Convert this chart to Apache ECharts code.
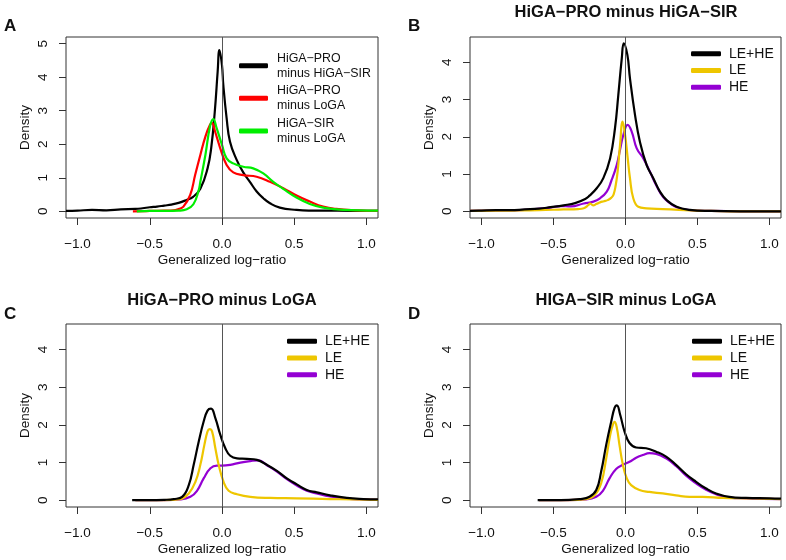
<!DOCTYPE html>
<html><head><meta charset="utf-8">
<script src="https://cdn.jsdelivr.net/npm/echarts@6/dist/echarts.min.js"></script>
<style>html,body{margin:0;padding:0;background:#fff}#c{width:786px;height:560px}</style>
</head><body><div id="c"></div>
<script>
// ---------- tick labels ----------
const xTicks = [-1, -0.5, 0, 0.5, 1];
const yTicksA = [0, 1, 2, 3, 4, 5];
const yTicksBCD = [0, 1, 2, 3, 4];

// ---------- Panel A ----------
const aNames = ['HiGA−PRO minus HiGA−SIR', 'HiGA−PRO minus LoGA', 'HiGA−SIR minus LoGA'];
const aLegendLabels = ['HiGA−PRO\nminus HiGA−SIR', 'HiGA−PRO\nminus LoGA', 'HiGA−SIR\nminus LoGA'];
const aBlackX = [-1.08, -1.0, -0.9, -0.8, -0.7, -0.6, -0.55, -0.5, -0.45, -0.4, -0.35, -0.3, -0.25, -0.2, -0.15, -0.1, -0.075, -0.05, -0.03, -0.018, 0, 0.009, 0.032, 0.055, 0.1, 0.147, 0.193, 0.24, 0.286, 0.332, 0.4, 0.516, 0.6, 0.8, 1.0, 1.08];
const aBlackY = [0.01, 0.02, 0.04, 0.03, 0.06, 0.07, 0.09, 0.12, 0.14, 0.17, 0.2, 0.25, 0.33, 0.43, 0.67, 1.28, 1.88, 2.97, 4.17, 4.81, 4.35, 3.77, 2.78, 2.08, 1.55, 1.16, 0.88, 0.59, 0.39, 0.24, 0.11, 0.04, 0.02, 0.02, 0.01, 0.01];
const aRedX = [-0.617, -0.5, -0.4, -0.336, -0.3, -0.267, -0.22, -0.186, -0.15, -0.115, -0.083, -0.069, -0.048, -0.012, 0.032, 0.078, 0.147, 0.24, 0.332, 0.424, 0.516, 0.608, 0.7, 0.792, 0.93, 1.08];
const aRedY = [0.0, 0.01, 0.02, 0.03, 0.07, 0.14, 0.49, 1.08, 1.68, 2.23, 2.58, 2.63, 2.38, 1.88, 1.38, 1.16, 1.08, 1.03, 0.88, 0.69, 0.47, 0.29, 0.14, 0.07, 0.03, 0.01];
const aGreenX = [-0.59, -0.5, -0.4, -0.3, -0.244, -0.198, -0.163, -0.15, -0.115, -0.083, -0.06, -0.037, 0, 0.032, 0.078, 0.147, 0.216, 0.286, 0.355, 0.424, 0.516, 0.608, 0.7, 0.838, 1.08];
const aGreenY = [0.0, 0.01, 0.01, 0.02, 0.06, 0.21, 0.6, 0.88, 1.68, 2.53, 2.75, 2.48, 1.98, 1.58, 1.43, 1.33, 1.28, 1.13, 0.88, 0.67, 0.41, 0.22, 0.11, 0.04, 0.02];

// ---------- Panels B, C, D: LE+HE, LE, HE ----------
const groupNames = ['LE+HE', 'LE', 'HE'];
const bBothX = [-1.08, -1.0, -0.9, -0.8, -0.7, -0.6, -0.52, -0.43, -0.35, -0.28, -0.25, -0.2, -0.154, -0.107, -0.073, -0.05, -0.026, -0.012, 0.013, 0.031, 0.066, 0.1, 0.147, 0.193, 0.239, 0.286, 0.355, 0.447, 0.59, 0.8, 1.08];
const bBothY = [0.01, 0.02, 0.03, 0.03, 0.05, 0.07, 0.11, 0.16, 0.22, 0.33, 0.42, 0.62, 0.89, 1.42, 2.23, 3.12, 4.1, 4.51, 4.2, 3.57, 2.59, 1.87, 1.24, 0.89, 0.53, 0.3, 0.12, 0.04, 0.01, 0.0, 0.0];
const bLEX = [-1.08, -0.8, -0.6, -0.43, -0.33, -0.29, -0.257, -0.246, -0.225, -0.2, -0.177, -0.15, -0.125, -0.1, -0.083, -0.068, -0.055, -0.038, -0.02, -0.003, 0.013, 0.031, 0.054, 0.089, 0.147, 0.26, 0.37, 0.49, 0.6, 0.8, 1.08];
const bLEY = [0.01, 0.02, 0.03, 0.05, 0.06, 0.08, 0.17, 0.21, 0.16, 0.2, 0.24, 0.27, 0.3, 0.36, 0.45, 0.7, 1.05, 1.78, 2.41, 2.05, 1.51, 0.89, 0.35, 0.12, 0.08, 0.06, 0.04, 0.02, 0.01, 0.0, 0.0];
const bHEX = [-1.08, -0.9, -0.7, -0.52, -0.45, -0.38, -0.29, -0.223, -0.177, -0.13, -0.1, -0.061, -0.038, -0.015, 0.015, 0.043, 0.078, 0.124, 0.17, 0.216, 0.262, 0.309, 0.355, 0.447, 0.59, 0.8, 1.08];
const bHEY = [0.01, 0.02, 0.04, 0.1, 0.14, 0.13, 0.21, 0.26, 0.35, 0.53, 0.8, 1.24, 1.65, 2.05, 2.32, 2.14, 1.69, 1.42, 1.06, 0.68, 0.38, 0.22, 0.11, 0.03, 0.01, 0.0, 0.0];

const cBothX = [-0.622, -0.5, -0.4, -0.334, -0.276, -0.23, -0.196, -0.161, -0.127, -0.1, -0.076, -0.046, -0.012, 0.023, 0.057, 0.104, 0.173, 0.242, 0.311, 0.38, 0.449, 0.518, 0.587, 0.656, 0.748, 0.864, 0.979, 1.08];
const cBothY = [0.0, 0.0, 0.01, 0.03, 0.09, 0.4, 0.94, 1.56, 2.09, 2.38, 2.43, 2.18, 1.74, 1.38, 1.18, 1.11, 1.1, 1.07, 0.94, 0.78, 0.58, 0.42, 0.27, 0.21, 0.13, 0.06, 0.03, 0.02];
const cLEX = [-0.6, -0.4, -0.288, -0.23, -0.184, -0.15, -0.122, -0.1, -0.086, -0.069, -0.046, -0.023, 0.011, 0.046, 0.104, 0.196, 0.334, 0.518, 0.748, 1.08];
const cLEY = [0.0, 0.0, 0.03, 0.18, 0.49, 0.94, 1.47, 1.83, 1.89, 1.83, 1.38, 0.94, 0.49, 0.25, 0.16, 0.09, 0.06, 0.05, 0.03, 0.01];
const cHEX = [-0.6, -0.4, -0.288, -0.219, -0.173, -0.127, -0.08, -0.035, 0, 0.057, 0.127, 0.196, 0.254, 0.311, 0.38, 0.449, 0.518, 0.587, 0.656, 0.748, 0.864, 0.979, 1.08];
const cHEY = [0.0, 0.0, 0.02, 0.09, 0.25, 0.58, 0.85, 0.92, 0.92, 0.94, 1.0, 1.04, 1.06, 0.93, 0.76, 0.56, 0.39, 0.25, 0.18, 0.1, 0.04, 0.02, 0.01];

const dBothX = [-0.61, -0.45, -0.319, -0.25, -0.203, -0.169, -0.134, -0.099, -0.076, -0.06, -0.037, -0.007, 0.028, 0.074, 0.143, 0.213, 0.282, 0.351, 0.421, 0.49, 0.56, 0.629, 0.721, 0.837, 0.999, 1.08];
const dBothY = [0.0, 0.0, 0.03, 0.09, 0.27, 0.76, 1.47, 2.09, 2.45, 2.52, 2.27, 1.83, 1.52, 1.4, 1.38, 1.29, 1.16, 0.94, 0.69, 0.49, 0.31, 0.18, 0.09, 0.06, 0.05, 0.04];
const dLEX = [-0.6, -0.4, -0.273, -0.215, -0.169, -0.134, -0.106, -0.088, -0.076, -0.06, -0.042, -0.018, 0.009, 0.039, 0.097, 0.166, 0.259, 0.351, 0.444, 0.536, 0.675, 0.837, 1.08];
const dLEY = [0.0, 0.0, 0.03, 0.13, 0.45, 1.11, 1.74, 2.0, 2.08, 1.92, 1.47, 0.94, 0.58, 0.4, 0.27, 0.22, 0.18, 0.13, 0.09, 0.09, 0.06, 0.05, 0.03];
const dHEX = [-0.6, -0.4, -0.273, -0.203, -0.157, -0.111, -0.065, -0.018, 0.028, 0.074, 0.12, 0.166, 0.213, 0.282, 0.351, 0.421, 0.49, 0.56, 0.629, 0.721, 0.837, 1.08];
const dHEY = [0.0, 0.0, 0.02, 0.09, 0.25, 0.58, 0.83, 0.94, 1.02, 1.13, 1.2, 1.25, 1.23, 1.11, 0.91, 0.65, 0.45, 0.28, 0.16, 0.07, 0.05, 0.03];

const panelTitles = ['HiGA−PRO minus HiGA−SIR', 'HiGA−PRO minus LoGA', 'HIGA−SIR minus LoGA'];
const panelLetters = ['A', 'B', 'C', 'D'];
const xName = 'Generalized log−ratio';
const yName = 'Density';

// ---------- build ----------
const FONT = 'Liberation Sans, Arial, Helvetica, sans-serif';
const colA = ['#000000', '#FF0000', '#00EE00'];
const colG = ['#000000', '#EEC600', '#9400D3'];
const zip = (xs, ys) => xs.map((x, i) => [x, ys[i]]);
const fmtX = v => (v < 0 ? '\u2212' : '') + Math.abs(v).toFixed(1);

const grids = [
  {left: 66, top: 37, width: 312, height: 181},
  {left: 470, top: 37, width: 311, height: 181},
  {left: 66, top: 324, width: 312, height: 183},
  {left: 470, top: 324, width: 311, height: 183}
].map(g => Object.assign(g, {show: true, borderColor: '#333', borderWidth: 1, backgroundColor: 'transparent', containLabel: false}));

const xAxes = grids.map((g, i) => ({
  gridIndex: i, type: 'value', min: -1.08, max: 1.08, position: 'bottom',
  axisLine: {show: false, onZero: false},
  splitLine: {show: false},
  axisTick: {show: true, customValues: xTicks, length: 7, inside: false, lineStyle: {color: '#333', width: 1}},
  axisLabel: {customValues: xTicks, formatter: fmtX, color: '#111', fontSize: 13.5, margin: 19, fontFamily: FONT},
  name: xName, nameLocation: 'middle', nameGap: 35,
  nameTextStyle: {color: '#111', fontSize: 13.5, fontFamily: FONT}
}));
const yAxes = grids.map((g, i) => {
  const ticks = i === 0 ? yTicksA : yTicksBCD;
  return {
    gridIndex: i, type: 'value', min: i === 0 ? -0.2 : -0.18, max: i === 0 ? 5.2 : 4.68, position: 'left',
    axisLine: {show: false, onZero: false},
    splitLine: {show: false},
    axisTick: {show: true, customValues: ticks, length: 7, inside: false, lineStyle: {color: '#333', width: 1}},
    axisLabel: {customValues: ticks, rotate: 90, color: '#111', fontSize: 13.5, margin: 16, fontFamily: FONT},
    name: yName, nameLocation: 'middle', nameGap: 34,
    nameTextStyle: {color: '#111', fontSize: 13.5, fontFamily: FONT}
  };
});

const vline = {
  silent: true, symbol: 'none', animation: false,
  label: {show: false},
  lineStyle: {color: '#555', width: 1, type: 'solid'},
  data: [{xAxis: 0}]
};
function line(name, color, data, gi, withMark) {
  const s = {
    name, type: 'line', xAxisIndex: gi, yAxisIndex: gi, data,
    color, showSymbol: false, symbol: 'none', smooth: 0.45,
    lineStyle: {color, width: 2.2, join: 'round'}, emphasis: {disabled: true}, animation: false
  };
  if (withMark) s.markLine = vline;
  return s;
}

const series = [
  line(aNames[0], colA[0], zip(aBlackX, aBlackY), 0, true),
  line(aNames[1], colA[1], zip(aRedX, aRedY), 0),
  line(aNames[2], colA[2], zip(aGreenX, aGreenY), 0)
];
const groupData = [
  [zip(bBothX, bBothY), zip(bLEX, bLEY), zip(bHEX, bHEY)],
  [zip(cBothX, cBothY), zip(cLEX, cLEY), zip(cHEX, cHEY)],
  [zip(dBothX, dBothY), zip(dLEX, dLEY), zip(dHEX, dHEY)]
];
groupData.forEach((gd, k) => {
  const gi = k + 1;
  series.push(line(groupNames[2], colG[2], gd[2], gi, true));
  series.push(line(groupNames[1], colG[1], gd[1], gi));
  series.push(line(groupNames[0], colG[0], gd[0], gi));
});

const legendBase = {
  orient: 'vertical', selectedMode: false, padding: 0, icon: 'roundRect',
  itemWidth: 29, itemHeight: 5, inactiveColor: '#000'
};
const legendATops = [43.2, 75.8, 108.5];
const legends = aNames.map((n, i) => Object.assign({}, legendBase, {
  data: [n], left: 239, top: legendATops[i],
  formatter: () => aLegendLabels[i],
  textStyle: {fontSize: 12.4, lineHeight: 15, color: '#111', fontFamily: FONT, padding: [15, 0, 0, 4]}
}));
const legendGPos = [[691, 45.5], [287, 333], [692, 333]];
legendGPos.forEach(p => legends.push(Object.assign({}, legendBase, {
  data: groupNames, left: p[0], top: p[1], itemWidth: 30, itemGap: 0,
  textStyle: {fontSize: 14, lineHeight: 16.7, color: '#111', fontFamily: FONT, padding: [0, 0, 0, 3]}
})));

const titleStyle = {fontSize: 16.5, fontWeight: 'bold', color: '#111', fontFamily: FONT};
const letterStyle = {fontSize: 17, fontWeight: 'bold', color: '#111', fontFamily: FONT};
const titles = [
  {text: panelLetters[0], left: 4, top: 17.5, padding: 0, textStyle: letterStyle},
  {text: panelLetters[1], left: 408, top: 17.5, padding: 0, textStyle: letterStyle},
  {text: panelLetters[2], left: 4, top: 305.5, padding: 0, textStyle: letterStyle},
  {text: panelLetters[3], left: 408, top: 305.5, padding: 0, textStyle: letterStyle},
  {text: panelTitles[0], left: 626, top: 3.5, textAlign: 'center', padding: 0, textStyle: titleStyle},
  {text: panelTitles[1], left: 222, top: 291.5, textAlign: 'center', padding: 0, textStyle: titleStyle},
  {text: panelTitles[2], left: 626, top: 291.5, textAlign: 'center', padding: 0, textStyle: titleStyle}
];

const chart = echarts.init(document.getElementById('c'), null, {renderer: 'canvas'});
chart.setOption({
  animation: false,
  backgroundColor: '#fff',
  textStyle: {fontFamily: FONT},
  title: titles,
  legend: legends,
  grid: grids,
  xAxis: xAxes,
  yAxis: yAxes,
  series
});
</script></body></html>
